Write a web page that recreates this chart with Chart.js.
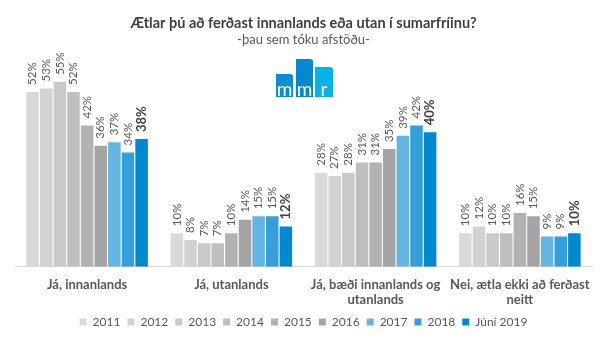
<!DOCTYPE html>
<html>
<head>
<meta charset="utf-8">
<script src="https://cdn.jsdelivr.net/npm/chart.js@4.4.1/dist/chart.umd.min.js"></script>
<style>
  html, body { margin: 0; padding: 0; background: #fff; }
  #wrap { width: 607px; height: 338px; }
</style>
</head>
<body>
<div id="wrap"><canvas id="travel"></canvas></div>
<script>
var categories = [
    "Já, innanlands",
    "Já, utanlands",
    ["Já, bæði innanlands og", "utanlands"],
    ["Nei, ætla ekki að ferðast", "neitt"]
];
var years = ["2011", "2012", "2013", "2014", "2015", "2016", "2017", "2018", "Júní 2019"];
var v2011 = [52, 10, 28, 10];
var v2012 = [53, 8, 27, 12];
var v2013 = [55, 7, 28, 10];
var v2014 = [52, 7, 31, 10];
var v2015 = [42, 10, 31, 16];
var v2016 = [36, 14, 35, 15];
var v2017 = [37, 15, 39, 9];
var v2018 = [34, 15, 42, 9];
var v2019 = [38, 12, 40, 10];
var colors = ["#d9d9d9", "#d2d2d2", "#c9c9c9", "#bfbfbf", "#b2b2b2", "#a5a5a5", "#65b5e3", "#349fdb", "#0089d1"];

var series = [v2011, v2012, v2013, v2014, v2015, v2016, v2017, v2018, v2019];
var datasets = series.map(function (vals, i) {
    return {
        label: years[i],
        data: vals,
        backgroundColor: colors[i],
        borderWidth: 0,
        barPercentage: 0.92,
        categoryPercentage: 0.85
    };
});

// rotated % labels above each bar
var barLabels = {
    id: 'barLabels',
    afterDatasetsDraw: function (chart) {
        var ctx = chart.ctx;
        var last = chart.data.datasets.length - 1;
        chart.data.datasets.forEach(function (ds, i) {
            var meta = chart.getDatasetMeta(i);
            if (meta.hidden) return;
            meta.data.forEach(function (bar, j) {
                ctx.save();
                ctx.translate(bar.x, bar.y - 7);
                ctx.rotate(-Math.PI / 2);
                ctx.textAlign = 'left';
                ctx.textBaseline = 'middle';
                if (i === last) {
                    ctx.font = 'bold 13px Lato';
                    ctx.fillStyle = '#404040';
                } else {
                    ctx.font = '11.5px Lato';
                    ctx.fillStyle = '#595959';
                }
                ctx.fillText(ds.data[j] + '%', 0, 0);
                ctx.restore();
            });
        });
    }
};

// mmr logo
var logo = {
    id: 'logo',
    afterDraw: function (chart) {
        var ctx = chart.ctx;
        var blocks = [
            { x: 276, top: 74, w: 17, c: '#0a8fd6', t: 'm' },
            { x: 296, top: 59, w: 17, c: '#0088d1', t: 'm' },
            { x: 315, top: 67, w: 18, c: '#00b3ea', t: 'r' }
        ];
        ctx.save();
        blocks.forEach(function (b) {
            ctx.fillStyle = b.c;
            ctx.beginPath();
            ctx.roundRect(b.x, b.top, b.w, 97 - b.top, [0, 3, 0, 0]);
            ctx.fill();
            ctx.fillStyle = '#fff';
            ctx.font = '19px Lato';
            ctx.textAlign = 'center';
            ctx.textBaseline = 'alphabetic';
            ctx.fillText(b.t, b.x + b.w / 2, 96);
        });
        ctx.restore();
    }
};

new Chart(document.getElementById('travel'), {
    type: 'bar',
    data: { labels: categories, datasets: datasets },
    options: {
        responsive: true,
        maintainAspectRatio: false,
        animation: false,
        layout: { padding: { left: 15, right: 15, top: 15, bottom: 0 } },
        plugins: {
            title: {
                display: true,
                text: 'Ætlar þú að ferðast innanlands eða utan í sumarfríinu?',
                color: '#404040',
                font: { family: 'Lato', size: 14.5, weight: 'bold' },
                padding: { top: 0, bottom: 0 }
            },
            subtitle: {
                display: true,
                text: '-þau sem tóku afstöðu-',
                color: '#595959',
                font: { family: 'Lato', size: 13 },
                padding: { top: 0, bottom: 17 }
            },
            legend: {
                display: true,
                position: 'bottom',
                labels: {
                    boxWidth: 7,
                    boxHeight: 7,
                    padding: 7,
                    color: '#595959',
                    font: { family: 'Lato', size: 12 }
                }
            },
            tooltip: { enabled: false }
        },
        scales: {
            x: {
                grid: { display: false },
                border: { display: true, color: '#d9d9d9', width: 1 },
                afterFit: function (scale) { scale.height -= 1; },
                ticks: {
                    color: '#595959',
                    padding: 2,
                    maxRotation: 0,
                    font: { family: 'Lato', size: 13, weight: 'bold' }
                }
            },
            y: {
                display: false,
                min: 0,
                max: 60
            }
        }
    },
    plugins: [barLabels, logo]
});
</script>
</body>
</html>
